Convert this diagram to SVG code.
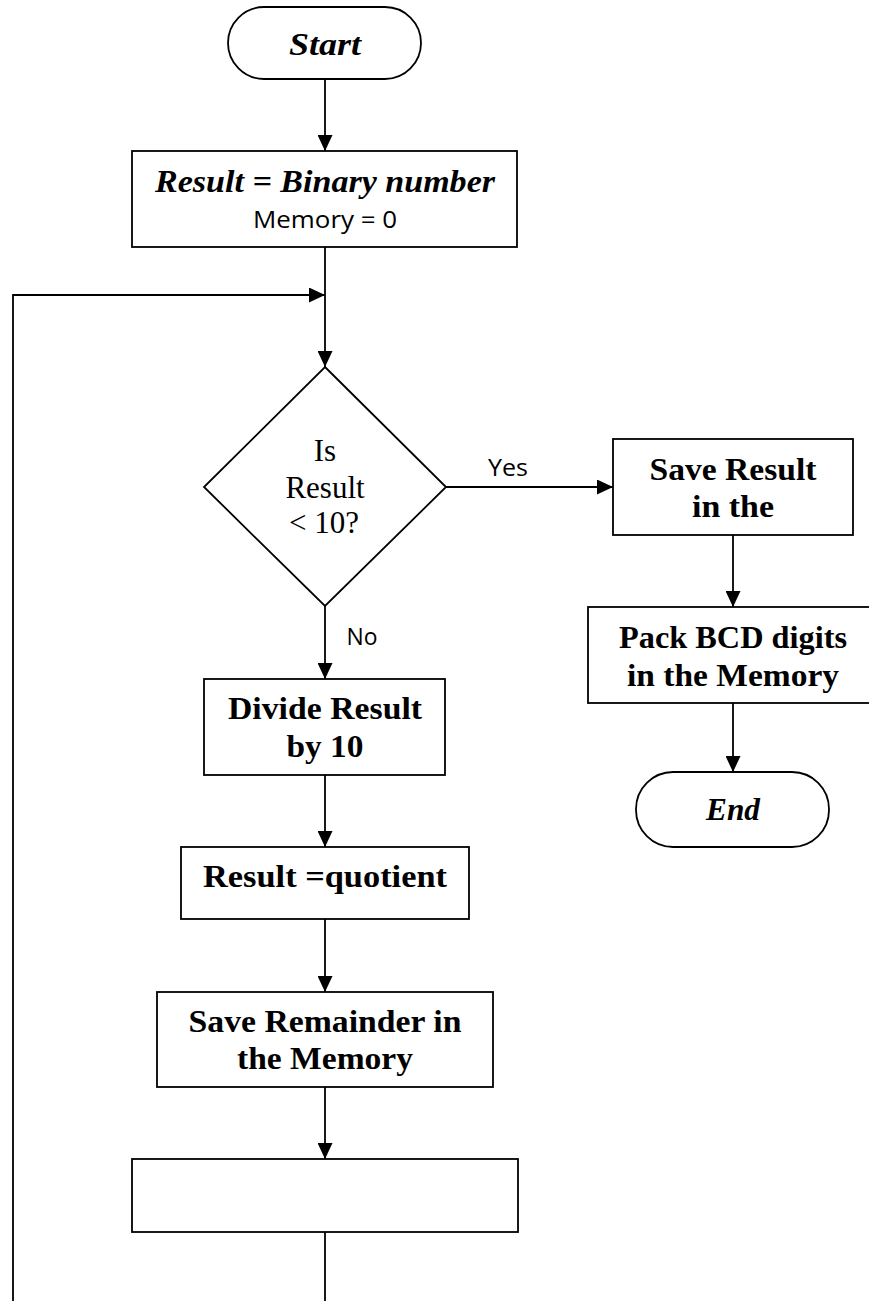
<svg xmlns="http://www.w3.org/2000/svg" width="869" height="1301" viewBox="0 0 869 1301">
  <style>
    .shape { fill: #ffffff; stroke: #000000; stroke-width: 1.8; }
    .wire { fill: none; stroke: #000000; stroke-width: 1.8; }
    .head { font-family: "Liberation Serif", "Times New Roman", serif; font-weight: bold; font-size: 31px; fill: #000; text-anchor: middle; }
    .term { font-family: "Liberation Serif", "Times New Roman", serif; font-weight: bold; font-style: italic; font-size: 31px; fill: #000; text-anchor: middle; }
    .plain { font-family: "Open Sans", "Liberation Sans", sans-serif; font-size: 24px; fill: #000; text-anchor: middle; }
    .cond { font-family: "Liberation Serif", "Times New Roman", serif; font-size: 31px; fill: #000; text-anchor: middle; }
  </style>
  <defs>
    <marker id="arrow" markerUnits="userSpaceOnUse" markerWidth="17" markerHeight="15" refX="16" refY="7.5" orient="auto">
      <path d="M0,0 L16,7.5 L0,15 Z" fill="#000"/>
    </marker>
  </defs>

  <rect width="869" height="1301" fill="#ffffff"/>

  <!-- connectors -->
  <g id="connectors">
    <line class="wire" x1="325" y1="79" x2="325" y2="151" marker-end="url(#arrow)"/>
    <line class="wire" x1="325" y1="247" x2="325" y2="367" marker-end="url(#arrow)"/>
    <polyline class="wire" points="13,1301 13,295 325,295" marker-end="url(#arrow)"/>
    <line class="wire" x1="446" y1="487" x2="613" y2="487" marker-end="url(#arrow)"/>
    <line class="wire" x1="733" y1="535" x2="733" y2="607" marker-end="url(#arrow)"/>
    <line class="wire" x1="733" y1="703" x2="733" y2="772" marker-end="url(#arrow)"/>
    <line class="wire" x1="325" y1="606" x2="325" y2="679" marker-end="url(#arrow)"/>
    <line class="wire" x1="325" y1="775" x2="325" y2="847" marker-end="url(#arrow)"/>
    <line class="wire" x1="325" y1="919" x2="325" y2="992" marker-end="url(#arrow)"/>
    <line class="wire" x1="325" y1="1087" x2="325" y2="1159" marker-end="url(#arrow)"/>
    <line class="wire" x1="325" y1="1232" x2="325" y2="1301"/>
    <text class="plain" x="508" y="476" textLength="40" lengthAdjust="spacingAndGlyphs">Yes</text>
    <text class="plain" x="362" y="645" textLength="31" lengthAdjust="spacingAndGlyphs">No</text>
  </g>

  <g id="start">
    <rect class="shape" x="228" y="7" width="193" height="72" rx="36" ry="36"/>
    <text class="term" x="325" y="55" textLength="72" lengthAdjust="spacingAndGlyphs">Start</text>
  </g>

  <g id="init">
    <rect class="shape" x="132" y="151" width="385" height="96"/>
    <text class="term" x="325" y="192" textLength="340" lengthAdjust="spacingAndGlyphs">Result = Binary number</text>
    <text class="plain" x="325" y="228" textLength="144" lengthAdjust="spacingAndGlyphs">Memory = 0</text>
  </g>

  <g id="check">
    <polygon class="shape" points="325,367 446,487 325,606 204,487"/>
    <text class="cond" x="325" y="461">Is</text>
    <text class="cond" x="325" y="498">Result</text>
    <text class="cond" x="324" y="533">&lt; 10?</text>
  </g>

  <g id="save-result">
    <rect class="shape" x="613" y="439" width="240" height="96"/>
    <text class="head" x="733" y="480" textLength="167" lengthAdjust="spacingAndGlyphs">Save Result</text>
    <text class="head" x="733" y="517" textLength="82" lengthAdjust="spacingAndGlyphs">in the</text>
  </g>

  <g id="pack">
    <rect class="shape" x="588" y="607" width="290" height="96"/>
    <text class="head" x="733" y="648" textLength="228" lengthAdjust="spacingAndGlyphs">Pack BCD digits</text>
    <text class="head" x="733" y="686" textLength="212" lengthAdjust="spacingAndGlyphs">in the Memory</text>
  </g>

  <g id="end">
    <rect class="shape" x="636" y="772" width="193" height="75" rx="37" ry="37"/>
    <text class="term" x="733" y="820" textLength="54" lengthAdjust="spacingAndGlyphs">End</text>
  </g>

  <g id="divide">
    <rect class="shape" x="204" y="679" width="241" height="96"/>
    <text class="head" x="325" y="719" textLength="194" lengthAdjust="spacingAndGlyphs">Divide Result</text>
    <text class="head" x="325" y="757" textLength="77" lengthAdjust="spacingAndGlyphs">by 10</text>
  </g>

  <g id="quotient">
    <rect class="shape" x="181" y="847" width="288" height="72"/>
    <text class="head" x="325" y="887" textLength="244" lengthAdjust="spacingAndGlyphs">Result =quotient</text>
  </g>

  <g id="save-remainder">
    <rect class="shape" x="157" y="992" width="336" height="95"/>
    <text class="head" x="325" y="1032" textLength="273" lengthAdjust="spacingAndGlyphs">Save Remainder in</text>
    <text class="head" x="325" y="1069" textLength="176" lengthAdjust="spacingAndGlyphs">the Memory</text>
  </g>

  <g id="blank-step">
    <rect class="shape" x="132" y="1159" width="386" height="73"/>
  </g>
</svg>
